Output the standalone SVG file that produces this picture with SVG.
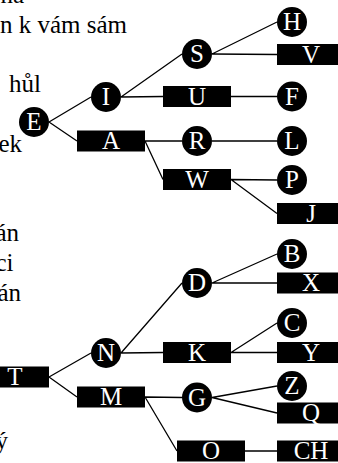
<svg xmlns="http://www.w3.org/2000/svg" width="338" height="463" viewBox="0 0 338 463">
<style>
.bg{fill:#fff}
.side{font-family:"Liberation Serif","Times New Roman","DejaVu Serif",serif;font-size:25px;fill:#000;text-anchor:end}
.c{fill:#000}
.b{fill:#000}
.t{font-family:"Liberation Serif","Times New Roman","DejaVu Serif",serif;font-size:25px;fill:#fff;text-anchor:middle}
.e{stroke:#000;stroke-width:1.3;fill:none}
</style>
<rect class="bg" x="0" y="0" width="338" height="463"/>
<g id="side-text">
<text class="side" x="24" y="3">na</text>
<text class="side" x="127" y="32.5">n k vám sám</text>
<text class="side" x="41" y="92">hůl</text>
<text class="side" x="22" y="151.5">ek</text>
<text class="side" x="19" y="241">án</text>
<text class="side" x="13.5" y="271">ci</text>
<text class="side" x="21" y="301">án</text>
<text class="side" x="8" y="449">ý</text>
</g>
<g id="connectors">
<path class="e" d="M49,122 L91,97 M49,122 L77,141 M121,97 L182,54 M121,97 L163,96.5 M212,54 L277,22 M212,54 L277,54.5 M231,96.5 L277,96.5 M145,141 L182,141 M145,141 L163,179.5 M212,141 L277,141 M231,179.5 L277,180 M231,179.5 L277,213.5"/>
<path class="e" d="M49,377 L91,353 M49,377 L77,397 M121,353 L182,283 M121,353 L163,352.5 M212,283 L277,254 M212,283 L277,283 M231,352.5 L277,323 M231,352.5 L277,352.5 M145,397 L182,397.5 M145,397 L177,451 M212,397.5 L277,386 M212,397.5 L277,413 M245,451 L277,451"/>
</g>
<g id="E"><circle class="c" cx="34" cy="122" r="15"/><text class="t" x="34" y="130.3">E</text></g>
<g id="I"><circle class="c" cx="106" cy="97" r="15"/><text class="t" x="106" y="105.3">I</text></g>
<g id="A"><rect class="b" x="77" y="130.5" width="68" height="21"/><text class="t" x="111" y="149.3">A</text></g>
<g id="S"><circle class="c" cx="197" cy="54" r="15"/><text class="t" x="197" y="62.3">S</text></g>
<g id="U"><rect class="b" x="163" y="86" width="68" height="21"/><text class="t" x="197" y="104.8">U</text></g>
<g id="R"><circle class="c" cx="197" cy="141" r="15"/><text class="t" x="197" y="149.3">R</text></g>
<g id="W"><rect class="b" x="163" y="169" width="68" height="21"/><text class="t" x="197" y="187.8">W</text></g>
<g id="H"><circle class="c" cx="292" cy="22" r="15"/><text class="t" x="292" y="30.3">H</text></g>
<g id="V"><rect class="b" x="277" y="44" width="68" height="21"/><text class="t" x="311" y="62.8">V</text></g>
<g id="F"><circle class="c" cx="292" cy="96.5" r="15"/><text class="t" x="292" y="104.8">F</text></g>
<g id="L"><circle class="c" cx="292" cy="141" r="15"/><text class="t" x="292" y="149.3">L</text></g>
<g id="P"><circle class="c" cx="292" cy="180" r="15"/><text class="t" x="292" y="188.3">P</text></g>
<g id="J"><rect class="b" x="277" y="203" width="68" height="21"/><text class="t" x="311" y="221.8">J</text></g>
<g id="T"><rect class="b" x="-19" y="366.5" width="68" height="21"/><text class="t" x="15" y="385.3">T</text></g>
<g id="N"><circle class="c" cx="106" cy="353" r="15"/><text class="t" x="106" y="361.3">N</text></g>
<g id="M"><rect class="b" x="77" y="386.5" width="68" height="21"/><text class="t" x="111" y="405.3">M</text></g>
<g id="D"><circle class="c" cx="197" cy="283" r="15"/><text class="t" x="197" y="291.3">D</text></g>
<g id="K"><rect class="b" x="163" y="342" width="68" height="21"/><text class="t" x="197" y="360.8">K</text></g>
<g id="G"><circle class="c" cx="197" cy="397.5" r="15"/><text class="t" x="197" y="405.8">G</text></g>
<g id="O"><rect class="b" x="177" y="440.5" width="68" height="21"/><text class="t" x="211" y="459.3">O</text></g>
<g id="B"><circle class="c" cx="292" cy="254" r="15"/><text class="t" x="292" y="262.3">B</text></g>
<g id="X"><rect class="b" x="277" y="272.5" width="68" height="21"/><text class="t" x="311" y="291.3">X</text></g>
<g id="C"><circle class="c" cx="292" cy="323" r="15"/><text class="t" x="292" y="331.3">C</text></g>
<g id="Y"><rect class="b" x="277" y="342" width="68" height="21"/><text class="t" x="311" y="360.8">Y</text></g>
<g id="Z"><circle class="c" cx="292" cy="386" r="15"/><text class="t" x="292" y="394.3">Z</text></g>
<g id="Q"><rect class="b" x="277" y="402.5" width="68" height="21"/><text class="t" x="311" y="421.3">Q</text></g>
<g id="CH"><rect class="b" x="277" y="440.5" width="68" height="21"/><text class="t" x="311" y="459.3">CH</text></g>
</svg>
